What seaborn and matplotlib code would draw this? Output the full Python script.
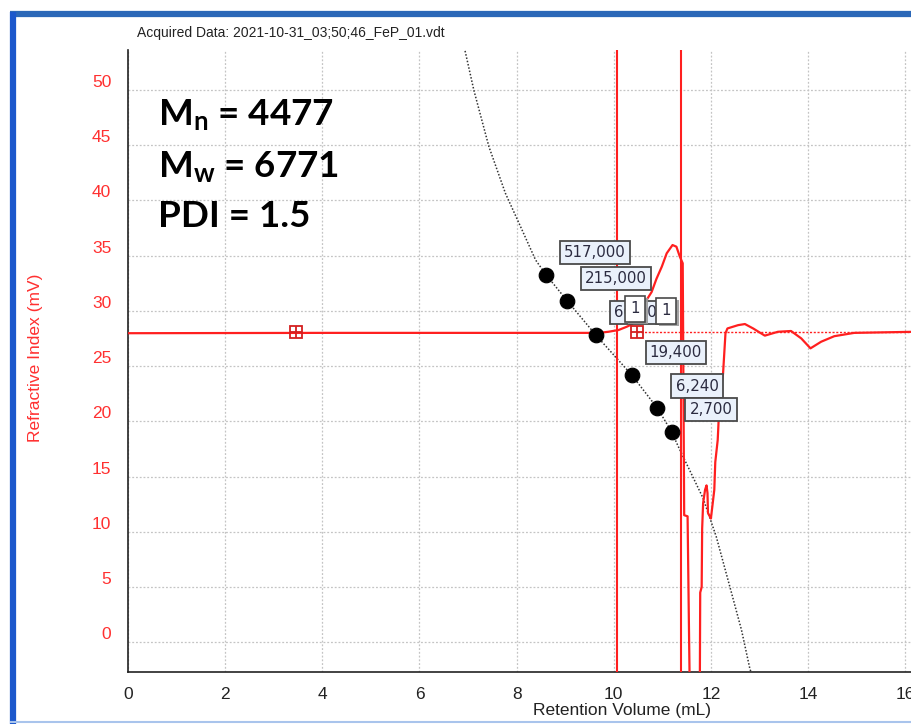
import numpy as np
import matplotlib
matplotlib.use("Agg")
import matplotlib.pyplot as plt
import matplotlib.patheffects as pe
from matplotlib.lines import Line2D
from matplotlib.ticker import MultipleLocator
import seaborn as sns

# refractive index trace (retention volume mL, signal mV)
ri_x = [0.0, 4.0, 9.70, 9.89, 10.10, 10.27, 10.37, 10.50, 10.65, 10.78, 10.88, 10.99,
        11.09, 11.21, 11.29, 11.36, 11.42, 11.45, 11.52, 11.55, 11.57, 11.77, 11.78,
        11.81, 11.82, 11.84, 11.88, 11.91, 11.93, 11.94, 12.00, 12.03, 12.07, 12.09,
        12.14, 12.15, 12.18, 12.25, 12.30, 12.34, 12.56, 12.70, 12.87, 13.11, 13.38,
        13.65, 13.86, 14.05, 14.27, 14.54, 14.95, 16.20]
ri_y = [27.97, 28.0, 28.0, 28.1, 28.26, 28.56, 28.77, 29.4, 30.8, 31.7, 32.9, 34.0,
        35.2, 35.95, 35.8, 34.9, 34.3, 11.5, 11.4, 0.7, -6.0, -6.0, 4.5,
        5.0, 10.3, 12.6, 13.8, 14.2, 13.5, 11.7, 11.2, 12.3, 13.8, 16.3,
        18.3, 19.2, 22.2, 24.3, 27.96, 28.4, 28.7, 28.8, 28.4, 27.75, 28.1,
        28.17, 27.5, 26.6, 27.2, 27.7, 28.0, 28.1]

# calibration curve, drawn on the RI scale
cal_x = [6.86, 6.92, 7.12, 7.43, 7.77, 8.05, 8.39, 8.61, 9.04, 9.63, 10.37, 10.90,
         11.19, 11.33, 11.84, 12.11, 12.39, 12.63, 12.80, 12.86]
cal_y = [55.0, 53.9, 49.96, 44.85, 40.63, 37.92, 34.6, 33.24, 30.91, 27.81, 24.19,
         21.18, 19.06, 17.7, 13.03, 9.56, 5.03, 1.11, -2.35, -3.2]

# calibration standards
std_x = [8.61, 9.04, 9.63, 10.37, 10.90, 11.19]
std_y = [33.24, 30.91, 27.81, 24.19, 21.18, 19.06]
std_labels = ["517,000", "215,000", "66,100", "19,400", "6,240", "2,700"]

# peak flags
flag_x = [10.43, 11.07]
flag_y = [30.18, 29.98]
flag_labels = ["1", "1"]

limits_x = [10.07, 11.39]
baseline_x = [3.46, 10.48]
baseline_level = 28.08

red = "#ff1f1f"

sns.set_style("white")
plt.rcParams["mathtext.fontset"] = "custom"
plt.rcParams["mathtext.rm"] = "Lato:bold"
plt.rcParams["mathtext.it"] = "Lato:bold"

fig = plt.figure(figsize=(9.12, 7.24), dpi=100)
ax = fig.add_axes([128 / 912, 1 - 672 / 724, 784 / 912, 622 / 724])

ax.set_xlim(0, 16.14)
ax.set_ylim(-2.69, 53.6)

ax.grid(True, which="major", color="#c4c4c4", ls=(0, (1.5, 1.5)), lw=0.9)
ax.set_axisbelow(True)

sns.lineplot(x=cal_x, y=cal_y, sort=False, estimator=None, color="#333333",
             lw=1.1, linestyle=(0, (1, 1.2)), ax=ax, zorder=2)
sns.lineplot(x=ri_x, y=ri_y, sort=False, estimator=None, color=red, lw=1.6,
             ax=ax, zorder=3)
for lx in limits_x:
    ax.axvline(lx, color=red, lw=1.5, zorder=3)
ax.hlines(baseline_level, baseline_x[1], 16.2, color=red, lw=1.0,
          linestyles=(0, (1.5, 1.2)), zorder=3)
ax.plot(baseline_x, [baseline_level] * 2, ls="none", marker="s", ms=9,
        mfc="none", mec="#d42020", mew=1.3, zorder=6)
ax.plot(baseline_x, [baseline_level] * 2, ls="none", marker="+", ms=9,
        mec="#d42020", mew=1.3, zorder=6)
sns.scatterplot(x=std_x, y=std_y, s=110, color="black", edgecolor="black",
                ax=ax, zorder=5)

box = dict(boxstyle="square,pad=0.28", fc="#eaf1fb", ec="#4a4a4a", lw=1.3)
for sx, sy, lab in zip(std_x, std_y, std_labels):
    ax.annotate(lab, (sx, sy), xytext=(13, 16), textcoords="offset points",
                ha="left", va="center", fontsize=10.8, color="#2b2b40",
                family="DejaVu Sans", bbox=box, zorder=7)
for fx, fy, lab in zip(flag_x, flag_y, flag_labels):
    t = ax.text(fx, fy, lab, ha="center", va="center", fontsize=10.8,
                color="#2b2b40", family="DejaVu Sans", zorder=8,
                bbox=dict(boxstyle="square,pad=0.35", fc="white", ec="#4a4a4a", lw=1.2))
    t.get_bbox_patch().set_path_effects(
        [pe.SimplePatchShadow(offset=(2.5, -1.5), shadow_rgbFace="#9a9a9a", alpha=0.9),
         pe.Normal()])

ax.xaxis.set_major_locator(MultipleLocator(2))
ax.xaxis.set_minor_locator(MultipleLocator(0.2))
ax.set_yticks(np.arange(0, 51, 5))
ax.yaxis.set_minor_locator(MultipleLocator(0.5))

for s in ["top", "right"]:
    ax.spines[s].set_visible(False)
for s in ["left", "bottom"]:
    ax.spines[s].set_color("#222222")
    ax.spines[s].set_linewidth(1.2)

ax.tick_params(axis="both", which="major", length=7, width=1.2, color="#222222",
               labelsize=12.5)
ax.tick_params(axis="both", which="minor", direction="inout", length=4, width=0.9,
               color="#222222")
ax.tick_params(axis="x", which="major", direction="inout", length=9, labelcolor="#222222",
               pad=6)
ax.tick_params(axis="y", which="major", direction="out", labelcolor="#ff3030", pad=5)
for lab in ax.get_xticklabels() + ax.get_yticklabels():
    lab.set_family("Liberation Sans")
plt.setp(ax.get_yticklabels(), va="bottom")

ax.set_xlabel("Retention Volume (mL)", fontsize=12.5, color="#222222",
              family="Liberation Sans")
ax.xaxis.set_label_coords(0.63, -0.05)
ax.set_ylabel("Refractive Index (mV)", fontsize=12.5, color="#ff3030",
              family="Liberation Sans")
ax.yaxis.set_label_coords(-0.108, 0.505)

fig.text(137 / 912, 1 - 33 / 724, "Acquired Data: 2021-10-31_03;50;46_FeP_01.vdt",
         fontsize=10, va="center", ha="left", family="Liberation Sans", color="#222222")

big = dict(fontsize=26.5, family="Lato", fontweight="bold", color="black",
           va="baseline", ha="left")
fig.text(158 / 912, 1 - 125 / 724, r"M$_{\mathrm{n}}$ = 4477", **big)
fig.text(158 / 912, 1 - 177 / 724, r"M$_{\mathrm{w}}$ = 6771", **big)
fig.text(158 / 912, 1 - 227 / 724, "PDI = 1.5", **big)

# window frame
fig.add_artist(Line2D([10 / 912, 1], [1 - 14 / 724] * 2, color="#2b68b8", lw=4.5,
                      solid_capstyle="butt", transform=fig.transFigure))
fig.add_artist(Line2D([13 / 912] * 2, [0, 1 - 12 / 724], color="#1c58cc", lw=4.5,
                      solid_capstyle="butt", transform=fig.transFigure))
fig.add_artist(Line2D([10 / 912, 1], [1 - 722 / 724] * 2, color="#a9c4ec", lw=1.5,
                      solid_capstyle="butt", transform=fig.transFigure))

fig.savefig("out.png", dpi=100)
